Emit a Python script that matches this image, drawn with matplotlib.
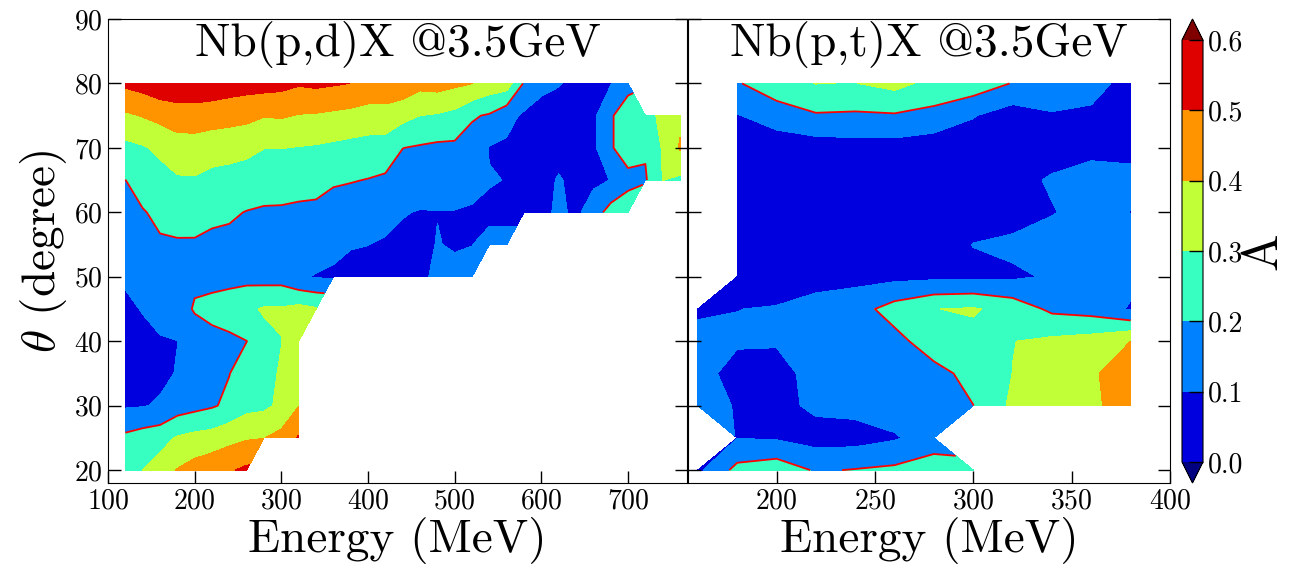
import numpy as np
import matplotlib
matplotlib.use('Agg')
import matplotlib.pyplot as plt

# computer-modern look without latex
plt.rcParams['font.family'] = 'serif'
plt.rcParams['font.serif'] = ['cmr10', 'DejaVu Serif']
plt.rcParams['mathtext.fontset'] = 'cm'
plt.rcParams['axes.unicode_minus'] = False
plt.rcParams['axes.formatter.use_mathtext'] = True

nan = np.nan

# angles (rows, top to bottom) shared by both panels
angle = [80, 75, 70, 65, 60, 55, 50, 45, 40, 35, 30, 25, 20]

# Nb(p,d)X, energy grid in MeV
energy_d = [120, 140, 160, 180, 200, 220, 240, 260, 280, 300, 320, 340, 360, 380, 400, 420,
            440, 460, 480, 500, 520, 540, 560, 580, 600, 620, 640, 660, 680, 700, 720, 740, 760]
A_d = [
    [0.52, 0.54, 0.57, 0.577, 0.577, 0.566, 0.55, 0.54, 0.54, 0.53, 0.51, 0.52, 0.51, 0.499, 0.47, 0.47,
     0.47, 0.43, 0.44, 0.42, 0.401, 0.36, 0.35, 0.19, 0.12, 0.105, 0.08, 0.07, 0.095, 0.17, nan, nan, nan],
    [0.384, 0.405, 0.429, 0.449, 0.45, 0.444, 0.436, 0.427, 0.404, 0.41, 0.395, 0.39, 0.38, 0.37, 0.36, 0.36,
     0.33, 0.30, 0.29, 0.27, 0.21, 0.19, 0.13, 0.085, 0.07, 0.06, 0.06, 0.08, 0.19, 0.25, 0.27, 0.32, 0.38],
    [0.273, 0.29, 0.32, 0.356, 0.358, 0.342, 0.335, 0.324, 0.302, 0.302, 0.296, 0.29, 0.28, 0.27, 0.26, 0.255,
     0.201, 0.19, 0.18, 0.18, 0.16, 0.095, 0.085, 0.07, 0.06, 0.06, 0.06, 0.08, 0.19, 0.25, 0.21, 0.31, 0.41],
    [0.199, 0.24, 0.264, 0.289, 0.291, 0.272, 0.265, 0.254, 0.24, 0.235, 0.23, 0.23, 0.21, 0.205, 0.197, 0.185,
     0.16, 0.15, 0.14, 0.14, 0.13, 0.105, 0.098, 0.07, 0.06, 0.11, 0.07, 0.08, 0.102, 0.17, 0.19, 0.302, 0.28],
    [0.169, 0.194, 0.219, 0.238, 0.237, 0.22, 0.211, 0.197, 0.19, 0.19, 0.185, 0.18, 0.165, 0.15, 0.15, 0.13,
     0.105, 0.095, 0.098, 0.097, 0.09, 0.085, 0.08, 0.08, 0.07, 0.12, 0.08, 0.15, 0.24, 0.26, nan, nan, nan],
    [0.14, 0.164, 0.19, 0.19, 0.19, 0.18, 0.18, 0.185, 0.18, 0.17, 0.14, 0.14, 0.125, 0.105, 0.101, 0.09,
     0.08, 0.075, 0.104, 0.09, 0.099, 0.12, 0.125, nan, nan, nan, nan, nan, nan, nan, nan, nan, nan],
    [0.11, 0.134, 0.17, 0.16, 0.18, 0.17, 0.17, 0.17, 0.16, 0.16, 0.11, 0.095, 0.085, 0.075, 0.07, 0.06,
     0.06, 0.08, 0.12, 0.13, 0.12, nan, nan, nan, nan, nan, nan, nan, nan, nan, nan, nan, nan],
    [0.085, 0.104, 0.14, 0.15, 0.21, 0.23, 0.25, 0.28, 0.31, 0.31, 0.33, 0.31, nan, nan, nan, nan,
     nan, nan, nan, nan, nan, nan, nan, nan, nan, nan, nan, nan, nan, nan, nan, nan, nan],
    [0.065, 0.08, 0.09, 0.099, 0.14, 0.17, 0.18, 0.199, 0.27, 0.298, 0.36, nan, nan, nan, nan, nan,
     nan, nan, nan, nan, nan, nan, nan, nan, nan, nan, nan, nan, nan, nan, nan, nan, nan],
    [0.065, 0.07, 0.08, 0.105, 0.13, 0.16, 0.198, 0.25, 0.27, 0.31, 0.37, nan, nan, nan, nan, nan,
     nan, nan, nan, nan, nan, nan, nan, nan, nan, nan, nan, nan, nan, nan, nan, nan, nan],
    [0.09, 0.095, 0.11, 0.15, 0.17, 0.19, 0.22, 0.27, 0.28, 0.32, 0.398, nan, nan, nan, nan, nan,
     nan, nan, nan, nan, nan, nan, nan, nan, nan, nan, nan, nan, nan, nan, nan, nan, nan],
    [0.221, 0.245, 0.26, 0.31, 0.33, 0.34, 0.37, 0.39, 0.398, 0.43, 0.51, nan, nan, nan, nan, nan,
     nan, nan, nan, nan, nan, nan, nan, nan, nan, nan, nan, nan, nan, nan, nan, nan, nan],
    [0.27, 0.30, 0.35, 0.405, 0.44, 0.47, 0.49, 0.52, nan, nan, nan, nan, nan, nan, nan, nan,
     nan, nan, nan, nan, nan, nan, nan, nan, nan, nan, nan, nan, nan, nan, nan, nan, nan],
]

# Nb(p,t)X
energy_t = [160, 180, 200, 220, 240, 260, 280, 300, 320, 340, 360, 380]
A_t = [
    [nan, 0.19, 0.27, 0.302, 0.298, 0.33, 0.27, 0.26, 0.195, 0.17, 0.12, 0.08],
    [nan, 0.095, 0.14, 0.19, 0.185, 0.19, 0.17, 0.105, 0.05, 0.09, 0.09, 0.06],
    [nan, 0.07, 0.05, 0.05, 0.06, 0.06, 0.04, 0.05, 0.05, 0.06, 0.08, 0.08],
    [nan, 0.06, 0.04, 0.04, 0.05, 0.05, 0.05, 0.06, 0.07, 0.11, 0.13, 0.12],
    [nan, 0.05, 0.04, 0.04, 0.04, 0.05, 0.05, 0.06, 0.06, 0.095, 0.13, 0.098],
    [nan, 0.05, 0.05, 0.05, 0.05, 0.05, 0.06, 0.102, 0.12, 0.14, 0.15, 0.15],
    [nan, 0.07, 0.06, 0.07, 0.07, 0.075, 0.08, 0.08, 0.085, 0.11, 0.13, 0.13],
    [0.09, 0.099, 0.105, 0.13, 0.16, 0.24, 0.298, 0.31, 0.26, 0.18, 0.16, 0.09],
    [0.12, 0.11, 0.105, 0.14, 0.17, 0.17, 0.25, 0.27, 0.298, 0.32, 0.34, 0.40],
    [0.13, 0.07, 0.08, 0.12, 0.14, 0.15, 0.17, 0.23, 0.301, 0.35, 0.39, 0.44],
    [0.13, 0.095, 0.07, 0.12, 0.13, 0.15, 0.17, 0.199, 0.32, 0.35, 0.38, 0.45],
    [nan, 0.098, 0.09, 0.06, 0.06, 0.09, 0.15, nan, nan, nan, nan, nan],
    [0.08, 0.23, 0.26, 0.19, 0.205, 0.22, 0.25, 0.24, nan, nan, nan, nan],
]

levels = [0.0, 0.1, 0.2, 0.3, 0.4, 0.5, 0.6]
titles = ['Nb(p,d)X @3.5GeV', 'Nb(p,t)X @3.5GeV']

fig = plt.figure(figsize=(12.92, 5.65), dpi=100)
ax1 = fig.add_axes([108 / 1292, 82 / 565, 579 / 1292, 464 / 565])
ax2 = fig.add_axes([688 / 1292, 82 / 565, 482 / 1292, 464 / 565])
cax = fig.add_axes([1182 / 1292, 82 / 565, 21 / 1292, 464 / 565])

panels = [(ax1, energy_d, A_d, (100, 768), [100, 200, 300, 400, 500, 600, 700]),
          (ax2, energy_t, A_t, (155, 400), [200, 250, 300, 350, 400])]

for i, (ax, e, a, xl, xt) in enumerate(panels):
    z = np.ma.masked_invalid(np.array(a))
    cs = ax.contourf(e, angle, z, levels=levels, cmap='jet', extend='both')
    ax.contour(e, angle, z, levels=[0.2], colors='red', linewidths=1.3)
    ax.set_xlim(*xl)
    ax.set_ylim(18, 90)
    ax.set_xticks(xt)
    ax.set_yticks([20, 30, 40, 50, 60, 70, 80, 90])
    ax.tick_params(direction='in', length=9, width=1, right=True, labelsize=20)
    ax.set_xlabel('Energy (MeV)', fontsize=34, labelpad=2)
    ax.text(0.5, 0.945, titles[i], transform=ax.transAxes, ha='center', va='center', fontsize=34)
    if i == 0:
        cs1 = cs

ax2.tick_params(labelleft=False)
ax1.set_ylabel(r'$\theta$ (degree)', fontsize=34, labelpad=4)

cb = fig.colorbar(cs1, cax=cax, ticks=levels, format='%.1f', extendfrac=0.05)
cb.ax.tick_params(direction='in', length=10, width=1, labelsize=20)
cb.set_label('A', fontsize=36, labelpad=-2)

fig.savefig('out.png', dpi=100)
